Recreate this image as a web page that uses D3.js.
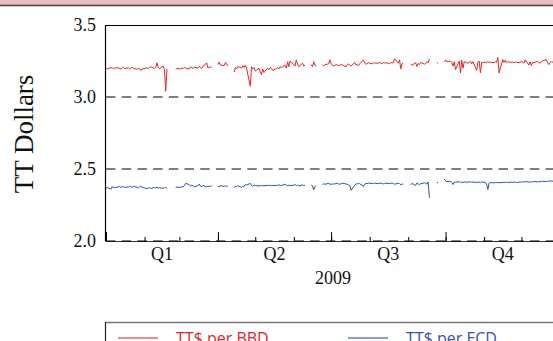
<!DOCTYPE html>
<html><head><meta charset="utf-8">
<script src="https://cdnjs.cloudflare.com/ajax/libs/d3/7.8.5/d3.min.js"></script>
<style>body{margin:0;background:#fff;overflow:hidden}svg{display:block}</style>
</head><body><svg id="c" width="553" height="341"></svg>
<script>
const yTicks=[2.0,2.5,3.0,3.5];
const gridTicks=[2.0,2.5,3.0];
const quarterLabels=["Q1","Q2","Q3","Q4"];
const yearLabel="2009";
const yTitle="TT Dollars";
const seriesNames=["TT$ per BBD","TT$ per ECD"];
// daily (weekday) observations, 2009; null = no quote
const bbd=[
3.200,3.195,3.205,3.198,3.202,3.196,3.204,3.199,3.193,3.201,
3.206,3.197,3.203,3.195,3.200,3.208,3.199,3.192,3.200,3.197,
3.183,3.195,3.200,3.204,3.196,3.205,3.210,3.198,3.206,3.238,
3.205,3.196,3.215,3.190,3.040,3.195,null,null,null,null,
3.192,3.198,3.195,3.202,3.197,3.206,3.200,3.195,3.210,3.203,
3.198,3.207,3.200,3.212,3.205,3.198,3.215,3.236,3.200,3.208,
3.205,3.210,null,null,3.225,3.242,3.222,3.218,3.240,3.230,
3.215,null,null,3.172,3.205,3.195,3.212,3.200,3.218,3.205,
3.220,3.200,3.075,3.210,3.195,3.205,3.180,3.200,3.175,3.155,
3.195,3.170,3.200,3.190,3.205,3.200,3.185,3.198,3.205,3.195,
3.210,3.205,3.220,3.200,3.245,3.210,3.250,3.225,3.215,3.258,
3.230,3.210,3.235,3.215,3.220,null,null,3.225,3.210,3.245,
3.220,3.215,null,null,3.222,3.215,3.225,3.230,3.258,3.232,
3.220,3.218,3.225,3.215,3.220,3.228,3.222,3.210,3.225,3.230,
3.220,3.215,3.240,3.222,3.225,3.218,3.230,3.258,3.235,3.228,
3.232,3.238,3.230,3.235,3.240,3.232,3.236,3.238,3.230,3.240,
3.235,3.238,3.232,3.240,3.236,3.238,3.265,3.235,3.258,3.195,
3.230,3.235,null,null,null,3.230,3.220,3.238,3.212,3.232,
3.225,3.240,3.228,3.232,3.245,3.238,3.265,null,null,null,
3.235,3.238,null,null,3.245,3.258,3.245,3.250,3.240,3.215,
3.245,3.190,3.250,3.168,3.255,3.200,3.245,3.235,3.240,3.248,
3.230,3.245,3.185,3.240,3.250,3.168,3.240,3.242,3.238,3.245,
3.240,3.242,3.238,3.245,3.240,3.275,3.168,3.260,3.240,3.255,
3.238,3.245,3.240,3.242,3.238,3.245,3.240,3.238,3.250,3.242,
3.235,3.258,3.222,3.245,3.218,3.240,3.238,3.248,3.240,3.235,
3.245,3.250,3.260,3.238,3.225,3.240,3.245,3.238,3.242,3.240,3.238];
const ecd=[
2.365,2.372,2.360,2.378,2.368,2.375,2.370,2.380,2.372,2.376,
2.378,2.372,2.375,2.380,2.376,2.372,2.378,2.374,2.368,2.376,
2.380,2.372,2.366,2.362,2.368,2.370,2.365,2.372,2.368,2.375,
2.368,2.370,2.366,2.372,2.368,2.370,null,null,null,null,
2.372,2.374,2.372,2.378,2.374,2.385,2.400,2.392,2.380,2.388,
2.382,2.376,2.385,2.395,2.380,2.378,2.385,2.376,2.382,2.378,
2.380,2.385,null,null,2.382,2.375,2.385,2.378,2.384,2.380,
2.382,null,null,2.370,2.382,2.376,2.385,2.372,2.380,2.378,
2.392,2.388,2.400,2.385,2.380,2.388,2.385,2.382,2.386,2.384,
2.385,2.384,2.386,2.385,2.387,2.384,2.386,2.385,2.387,2.390,
2.386,2.385,2.395,2.386,2.384,2.388,2.385,2.387,2.392,2.385,
2.388,2.382,2.390,2.385,2.386,null,null,2.388,2.384,2.355,
2.378,2.384,null,null,2.392,2.398,2.394,2.400,2.396,2.392,
2.398,2.395,2.400,2.396,2.394,2.398,2.402,2.396,2.394,2.390,
2.385,2.352,2.388,2.398,2.396,2.400,2.398,2.380,2.394,2.400,
2.398,2.402,2.400,2.398,2.402,2.400,2.399,2.402,2.400,2.396,
2.400,2.402,2.398,2.400,2.403,2.398,2.395,2.400,2.398,2.390,
2.396,2.394,null,null,null,2.390,2.400,2.386,2.404,2.396,
2.392,2.398,2.404,2.402,2.395,2.410,2.300,null,null,null,
2.408,2.405,null,null,2.430,2.418,2.412,2.415,2.405,2.392,
2.410,2.408,2.412,2.405,2.410,2.406,2.410,2.408,2.410,2.412,
2.408,2.410,2.406,2.410,2.408,2.405,2.410,2.406,2.395,2.358,
2.402,2.405,2.404,2.406,2.405,2.407,2.405,2.406,2.408,2.406,
2.408,2.406,2.409,2.407,2.410,2.408,2.406,2.410,2.408,2.412,
2.409,2.412,2.410,2.408,2.412,2.410,2.413,2.411,2.410,2.414,
2.412,2.415,2.413,2.416,2.414,2.418,2.415,2.417,2.416,2.418,2.417];

// weekday calendar of 2009
const dates=d3.timeDay.range(new Date(2009,0,1),new Date(2010,0,1)).filter(d=>d.getDay()!==0&&d.getDay()!==6);

const svg=d3.select("#c");
const x=d3.scaleTime().domain([new Date(2009,0,1),new Date(2010,0,1)]).range([106,560]);
const y=d3.scaleLinear().domain([2,3.5]).range([241,25]);
const serif="'Liberation Serif','Times New Roman',serif";

// top band
svg.append("rect").attr("x",0).attr("y",0).attr("width",553).attr("height",5).attr("fill","#e6bdc1");
svg.append("line").attr("x1",0).attr("x2",553).attr("y1",5.5).attr("y2",5.5).attr("stroke","#5a3a40").attr("stroke-width",1.5);

// gridlines
svg.append("g").selectAll("line").data(gridTicks).join("line")
 .attr("x1",106).attr("x2",560).attr("y1",d=>y(d)).attr("y2",d=>y(d))
 .attr("stroke","#555").attr("stroke-width",1.3).attr("stroke-dasharray","9.5,6.2");

// frame
svg.append("line").attr("x1",105.5).attr("x2",560).attr("y1",25.5).attr("y2",25.5).attr("stroke","#000").attr("stroke-width",1.2);
svg.append("line").attr("x1",105.5).attr("x2",105.5).attr("y1",25).attr("y2",241.5).attr("stroke","#000").attr("stroke-width",1.2);

// x axis: monthly minor ticks, quarterly major ticks (inward)
const months=d3.timeMonth.range(new Date(2009,0,1),new Date(2010,0,1));
const gx=svg.append("g").attr("transform","translate(0,241)");
gx.call(d3.axisBottom(x).tickValues(months).tickSize(-4).tickFormat(""));
gx.call(g=>g.select(".domain").attr("stroke","#000").attr("stroke-width",0.8));
const gq=svg.append("g").attr("transform","translate(0,241)");
gq.call(d3.axisBottom(x).tickValues(d3.timeMonth.every(3).range(new Date(2009,0,1),new Date(2010,0,1))).tickSize(-9).tickFormat(""));
gq.select(".domain").remove();
svg.selectAll(".tick line").attr("stroke","#000");

const qMid=quarterLabels.map((q,i)=>new Date((new Date(2009,i*3,1).getTime()+new Date(2009,i*3+3,1).getTime())/2));
svg.append("g").selectAll("text").data(quarterLabels).join("text")
 .attr("x",(d,i)=>x(qMid[i])).attr("y",260).attr("text-anchor","middle")
 .attr("font-family",serif).attr("font-size",18).attr("fill","#111").text(d=>d);
svg.append("text").attr("x",333).attr("y",284).attr("text-anchor","middle")
 .attr("font-family",serif).attr("font-size",18).attr("fill","#111").text(yearLabel);

// y tick labels
svg.append("g").selectAll("text").data(yTicks).join("text")
 .attr("x",96).attr("y",d=>y(d)+6).attr("text-anchor","end")
 .attr("font-family",serif).attr("font-size",18).attr("fill","#111").text(d=>d.toFixed(1));
svg.append("text").attr("transform","translate(33,134) rotate(-90)").attr("text-anchor","middle")
 .attr("font-family",serif).attr("font-size",27).attr("fill","#111").text(yTitle);

// series
const line=d3.line().defined(d=>d[1]!=null).x(d=>x(d[0])).y(d=>y(d[1]));
svg.append("path").datum(dates.map((d,i)=>[d,bbd[i]])).attr("d",line).attr("fill","none").attr("stroke","#ee2424").attr("stroke-width",1);
svg.append("path").datum(dates.map((d,i)=>[d,ecd[i]])).attr("d",line).attr("fill","none").attr("stroke","#3450a6").attr("stroke-width",1);

// legend
svg.append("line").attr("x1",105).attr("x2",560).attr("y1",322.5).attr("y2",322.5).attr("stroke","#777").attr("stroke-width",1.5);
svg.append("line").attr("x1",105.5).attr("x2",105.5).attr("y1",322).attr("y2",345).attr("stroke","#222").attr("stroke-width",1.2);
const legColors=["#f28a8a","#8d9fd0"], legText=["#e8202a","#3a50a2"], legX=[118,348];
seriesNames.forEach((n,i)=>{
 svg.append("line").attr("x1",legX[i]).attr("x2",legX[i]+40).attr("y1",338).attr("y2",338).attr("stroke",legColors[i]).attr("stroke-width",2);
 svg.append("text").attr("x",legX[i]+58).attr("y",344).attr("font-family","'Open Sans','Noto Sans',sans-serif").attr("font-size",16).attr("fill",legText[i]).text(n);
});
</script></body></html>
